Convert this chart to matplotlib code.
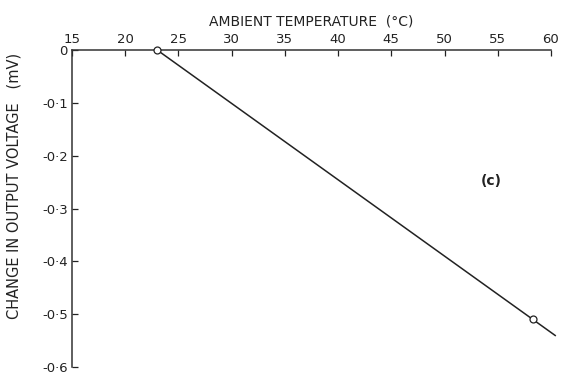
import numpy as np
import matplotlib
matplotlib.use("Agg")
import matplotlib.pyplot as plt

plt.rcParams['font.family'] = ['DejaVu Sans']

# measured points: ambient temperature (deg C) vs change in output voltage (mV)
temp_pts = [23.0, 58.3]
dv_pts = [0.0, -0.51]

# fitted straight line through the measurements
temp_line = [23.0, 60.4]
slope = (dv_pts[1] - dv_pts[0]) / (temp_pts[1] - temp_pts[0])
dv_line = [dv_pts[0] + slope * (t - temp_pts[0]) for t in temp_line]

x_ticks = [15, 20, 25, 30, 35, 40, 45, 50, 55, 60]
y_ticks = [0, -0.1, -0.2, -0.3, -0.4, -0.5, -0.6]
y_labels = ['0', '-0·1', '-0·2', '-0·3', '-0·4', '-0·5', '-0·6']

fig = plt.figure(figsize=(5.61, 3.74), dpi=100)
ax = fig.add_axes([0.1283, 0.0187, 0.8538, 0.8476])

ax.plot(temp_line, dv_line, color='#222222', lw=1.1, clip_on=False, zorder=2)
ax.plot(temp_pts, dv_pts, 'o', ms=5, mfc='white', mec='#222222', mew=0.9,
        clip_on=False, zorder=3)

ax.set_xlim(15, 60)
ax.set_ylim(-0.6, 0)

ax.xaxis.tick_top()
ax.xaxis.set_label_position('top')
ax.set_xticks(x_ticks)
ax.set_xticklabels([str(v) for v in x_ticks])
ax.set_yticks(y_ticks)
ax.set_yticklabels(y_labels)
ax.tick_params(axis='both', direction='in', length=4, width=0.9,
               labelsize=9.5, colors='#222222', pad=3)

for side in ['right', 'bottom']:
    ax.spines[side].set_visible(False)
for side in ['top', 'left']:
    ax.spines[side].set_linewidth(1.1)
    ax.spines[side].set_color('#333333')

ax.set_xlabel('AMBIENT TEMPERATURE  (°C)', fontsize=10, labelpad=5,
              color='#222222')
ax.set_ylabel('CHANGE IN OUTPUT VOLTAGE   (mV)', fontsize=10.5,
              color='#222222')
ax.yaxis.set_label_coords(-0.105, 0.57)

ax.text(54.4, -0.248, '(c)', fontsize=10, fontweight='semibold',
        ha='center', va='center', color='#222222')

fig.savefig('out.png', dpi=100)
